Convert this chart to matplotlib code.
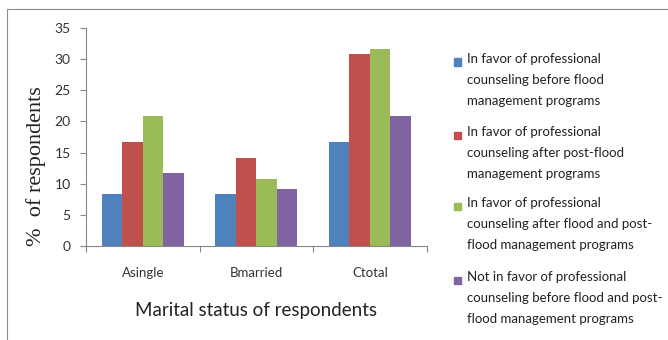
import matplotlib
matplotlib.use("Agg")
import matplotlib.pyplot as plt
from matplotlib.patches import Rectangle

# survey results, % of respondents per group
groups = ["Asingle", "Bmarried", "Ctotal"]
before_flood = [8.4, 8.4, 16.7]
after_post_flood = [16.7, 14.2, 30.8]
after_flood_and_post = [20.8, 10.8, 31.7]
not_in_favor = [11.7, 9.2, 20.8]

series_labels = [
    "In favor of professional\ncounseling before flood\nmanagement programs",
    "In favor of professional\ncounseling after post-flood\nmanagement programs",
    "In favor of professional\ncounseling after flood and post-\nflood management programs",
    "Not in favor of professional\ncounseling before flood and post-\nflood management programs",
]
colors = ["#4F81BD", "#C0504D", "#9BBB59", "#8064A2"]
yticks = [0, 5, 10, 15, 20, 25, 30, 35]

plt.rcParams["font.family"] = ["Lato", "DejaVu Sans"]

W, H = 668, 340
fig = plt.figure(figsize=(W / 100, H / 100), dpi=100)

# outer chart frame
fig.patches.append(Rectangle((7 / W, -0.1), 1.2, (H - 9) / H + 0.1,
                             transform=fig.transFigure, fill=False,
                             edgecolor="#8c8c8c", linewidth=0.8))

ax = fig.add_axes([86 / W, (H - 246) / H, (426.7 - 86) / W, (246 - 28) / H])

series = [before_flood, after_post_flood, after_flood_and_post, not_in_favor]
bw = 0.18
x = range(len(groups))
for i, (vals, c) in enumerate(zip(series, colors)):
    ax.bar([k + (i - 1.5) * bw for k in x], vals, width=bw, color=c, linewidth=0)

ax.set_xlim(-0.5, len(groups) - 0.5)
ax.set_ylim(0, 35)
ax.set_yticks(yticks)
ax.set_xticks(list(x))
ax.set_xticklabels(groups, fontsize=9.5)
ax.set_xticks([k - 0.5 for k in range(len(groups) + 1)], minor=True)
ax.tick_params(axis="x", which="major", length=0, pad=15, colors="#333333")
ax.tick_params(axis="x", which="minor", length=4, color="#868686", width=0.8)
ax.tick_params(axis="y", length=4, color="#868686", width=0.8, pad=7,
               labelsize=10, labelcolor="#333333")

for s in ["top", "right"]:
    ax.spines[s].set_visible(False)
for s in ["left", "bottom"]:
    ax.spines[s].set_color("#868686")
    ax.spines[s].set_linewidth(0.8)

ax.set_xlabel("Marital status of respondents", fontsize=13.5, color="#222222",
              labelpad=17)
fig.text(36 / W, 1 - 166 / H, "%  of respondents", fontsize=16,
         family="Liberation Serif", color="#222222", rotation=90,
         ha="center", va="center")

# legend drawn by hand so each swatch sits on the first text line
tops = [62, 135, 206, 280]
for lab, c, yc in zip(series_labels, colors, tops):
    fig.patches.append(Rectangle((454 / W, 1 - (yc + 3.5) / H), 7 / W, 7 / H,
                                 transform=fig.transFigure, color=c))
    fig.text(467 / W, 1 - (yc - 9) / H, lab, fontsize=9.5, va="top", ha="left",
             linespacing=1.9, color="#222222")

fig.savefig("out.png", dpi=100)
